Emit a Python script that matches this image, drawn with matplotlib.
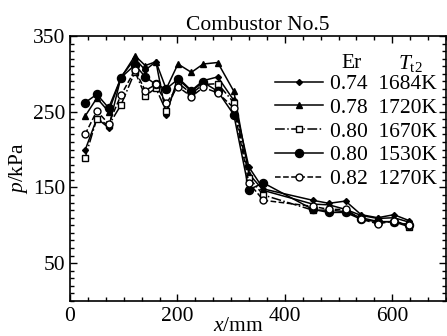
import matplotlib
matplotlib.use("Agg")
import matplotlib.pyplot as plt
from matplotlib.ticker import MultipleLocator

plt.rcParams['font.family'] = ['Liberation Serif', 'DejaVu Serif']
plt.rcParams['mathtext.fontset'] = 'custom'
plt.rcParams['mathtext.rm'] = 'Liberation Serif'
plt.rcParams['mathtext.it'] = 'Liberation Serif:italic'

x_mm = [28, 50, 72, 95, 121, 140, 160, 179, 201, 226, 248, 275, 305, 333, 360,
        452, 482, 513, 542, 573, 603, 632]

p_074_1684 = [199, 241, 229, 296, 320, 305, 316, 246, 295, 278, 291, 296, 265, 177, 148,
              133, 129, 132, 114, 110, 114, 106]
p_078_1720 = [244, 268, 250, 295, 324, 311, 316, 280, 313, 302, 313, 315, 277, 168, 146,
              128, 127, 121, 113, 109, 110, 104]
p_080_1670 = [189, 241, 232, 259, 303, 271, 281, 251, 288, 274, 286, 287, 262, 163, 140,
              120, 120, 118, 110, 105, 104.5, 98]
p_080_1530 = [262, 273, 255, 295, 312, 296, 286, 280, 293, 277, 289, 277, 246, 147, 156,
              121, 117, 117, 108, 104.5, 105, 100]
p_082_1270 = [220, 251, 234, 272, 305, 278, 286, 261, 283, 270, 282, 275, 255, 156, 133,
              125, 121, 121, 108, 102, 105.6, 100]

labels = ["0.74  1684K", "0.78  1720K", "0.80  1670K", "0.80  1530K", "0.82  1270K"]

FS = 15.5
LFS = 15.5

fig = plt.figure(figsize=(4.47, 3.36), dpi=100)
ax = fig.add_axes([70/447, 1-301/336, 376/447, 265/336])

lw = 1.1
h1, = ax.plot(x_mm, p_074_1684, '-', color='black', lw=lw, marker='D', ms=3, mfc='black', label=labels[0])
h2, = ax.plot(x_mm, p_078_1720, '-', color='black', lw=lw, marker='^', ms=5, mfc='black', label=labels[1])
h3, = ax.plot(x_mm, p_080_1670, '-.', color='black', lw=lw, marker='s', ms=4.3, mfc='white', mew=1.0, label=labels[2])
h4, = ax.plot(x_mm, p_080_1530, '-', color='black', lw=lw, marker='o', ms=5.8, mfc='black', label=labels[3])
h5, = ax.plot(x_mm, p_082_1270, '--', color='black', lw=lw, marker='o', ms=5, mfc='white', mew=1.0, label=labels[4])

ax.set_xlim(0, 700)
ax.set_ylim(0, 350)
ax.xaxis.set_major_locator(MultipleLocator(200))
ax.xaxis.set_minor_locator(MultipleLocator(200/6))
ax.set_yticks([50, 150, 250, 350])
ax.yaxis.set_minor_locator(MultipleLocator(10))
ax.tick_params(which='both', direction='in', top=True, right=True, labelsize=FS, width=1.0)
ax.tick_params(which='major', length=5)
ax.tick_params(which='minor', length=3)
ax.tick_params(axis='x', which='major', pad=4)
ax.tick_params(axis='y', which='major', pad=3.5)
for s in ax.spines.values():
    s.set_linewidth(1.2)

leg = ax.legend(handles=[h1, h2, h3, h4, h5], labels=labels, loc='upper right',
                bbox_to_anchor=(1.012, 0.905), frameon=False, fontsize=LFS,
                handlelength=2.2, handletextpad=0.37, labelspacing=0.17,
                borderaxespad=0.2)
ax.text(0.75, 0.895, "Er", transform=ax.transAxes, fontsize=LFS, ha='center', va='center')
ax.text(0.905, 0.895, r"$T_{\rm t2}$", transform=ax.transAxes, fontsize=LFS, ha='center', va='center')

ax.set_title("Combustor No.5", fontsize=15.5, pad=4)
ax.text((238-70)/376, -0.098, r"$x$/mm", transform=ax.transAxes, fontsize=FS, ha='center', va='center')
ax.set_ylabel(r"$p$/kPa", fontsize=FS, labelpad=2)

fig.savefig("out.png", dpi=100)
